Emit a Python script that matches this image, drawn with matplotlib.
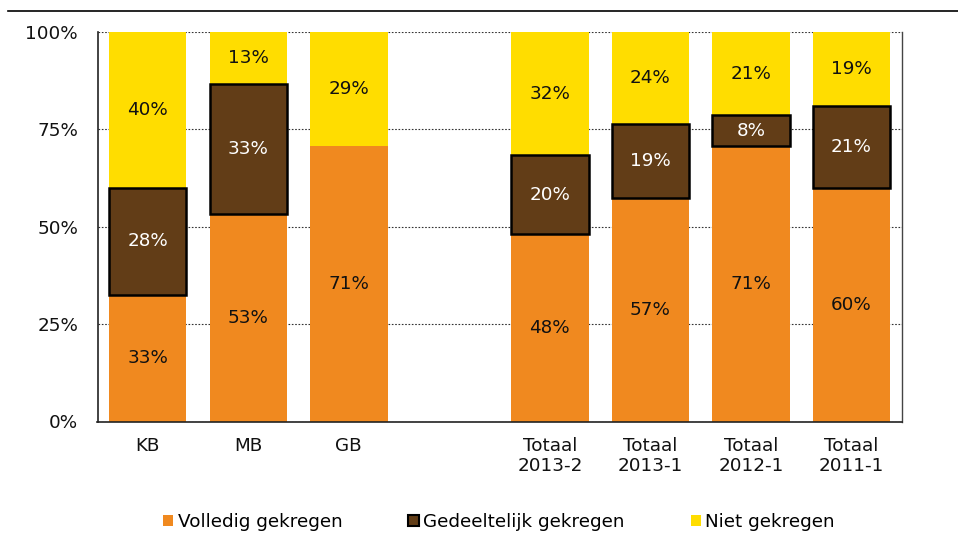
import matplotlib
matplotlib.use("Agg")
import matplotlib.pyplot as plt
from matplotlib.lines import Line2D
from matplotlib.patches import Patch
import numpy as np

categories = ["KB", "MB", "GB", "", "Totaal\n2013-2", "Totaal\n2013-1", "Totaal\n2012-1", "Totaal\n2011-1"]
volledig = [32.5, 53.3, 70.8, np.nan, 48.1, 57.4, 70.8, 59.9]
gedeeltelijk = [27.5, 33.4, 0.0, np.nan, 20.2, 19.1, 7.8, 21.1]
niet = [40.0, 13.3, 29.2, np.nan, 31.7, 23.5, 21.4, 19.0]
series_names = ["Volledig gekregen", "Gedeeltelijk gekregen", "Niet gekregen"]

c_orange = "#F0891F"
c_brown = "#623D17"
c_yellow = "#FFDD00"

plt.rcParams['font.family'] = ['DejaVu Sans']
fig = plt.figure(figsize=(9.58, 5.34), dpi=100)
ax = fig.add_axes([97.5/958, 1-421.5/534, (901.7-97.5)/958, (421.5-32)/534])

x = np.arange(len(categories))
w = 0.77
fs = 13.2

def lab(v):
    return f"{int(v + 0.5)}%"

for i in range(len(categories)):
    if np.isnan(volledig[i]):
        continue
    v, g, n = volledig[i], gedeeltelijk[i], niet[i]
    ax.bar(x[i], v, w, bottom=0, color=c_orange, zorder=2)
    if g > 0:
        ax.bar(x[i], g, w, bottom=v, color=c_brown, edgecolor="black", linewidth=1.8, zorder=3)
    ax.bar(x[i], n, w, bottom=v + g, color=c_yellow, zorder=2)
    ax.text(x[i], v / 2, lab(v), ha="center", va="center", fontsize=fs, color="#111111", zorder=5)
    if g > 0:
        ax.text(x[i], v + g / 2, lab(g), ha="center", va="center", fontsize=fs, color="white", zorder=5)
    ax.text(x[i], v + g + n / 2, lab(n), ha="center", va="center", fontsize=fs, color="#111111", zorder=5)

ax.set_xlim(-0.5, len(categories) - 0.5)
ax.set_ylim(0, 100)
ax.set_yticks([0, 25, 50, 75, 100])
ax.set_yticklabels(["0%", "25%", "50%", "75%", "100%"], fontsize=fs, color="#111111")
ax.set_xticks(x)
ax.set_xticklabels(categories, fontsize=fs, color="#111111", linespacing=1.15)
ax.tick_params(axis="x", length=0, pad=11)
ax.tick_params(axis="y", length=0, pad=14)
ax.yaxis.grid(True, linestyle=(0, (1.5, 1.5)), color="#333333", linewidth=0.8, zorder=0)
ax.set_axisbelow(True)
for s in ["left", "bottom"]:
    ax.spines[s].set_color("#222222")
    ax.spines[s].set_linewidth(1.2)
ax.spines["right"].set_color("#444444")
ax.spines["right"].set_linewidth(1.0)
ax.spines["top"].set_visible(False)

fig.add_artist(Line2D([8/958, 1.0], [1-11/534, 1-11/534], color="black", linewidth=1.2))

handles = [Patch(facecolor=c_orange, edgecolor="none"),
           Patch(facecolor=c_brown, edgecolor="black", linewidth=1.5),
           Patch(facecolor=c_yellow, edgecolor="none")]
fig.legend(handles, series_names, loc="center", bbox_to_anchor=(499/958, 1-522/534), ncol=3,
           frameon=False, fontsize=fs, handlelength=0.55, handleheight=0.55, handletextpad=0.25,
           columnspacing=3.6)

fig.savefig("out.png", dpi=100)
